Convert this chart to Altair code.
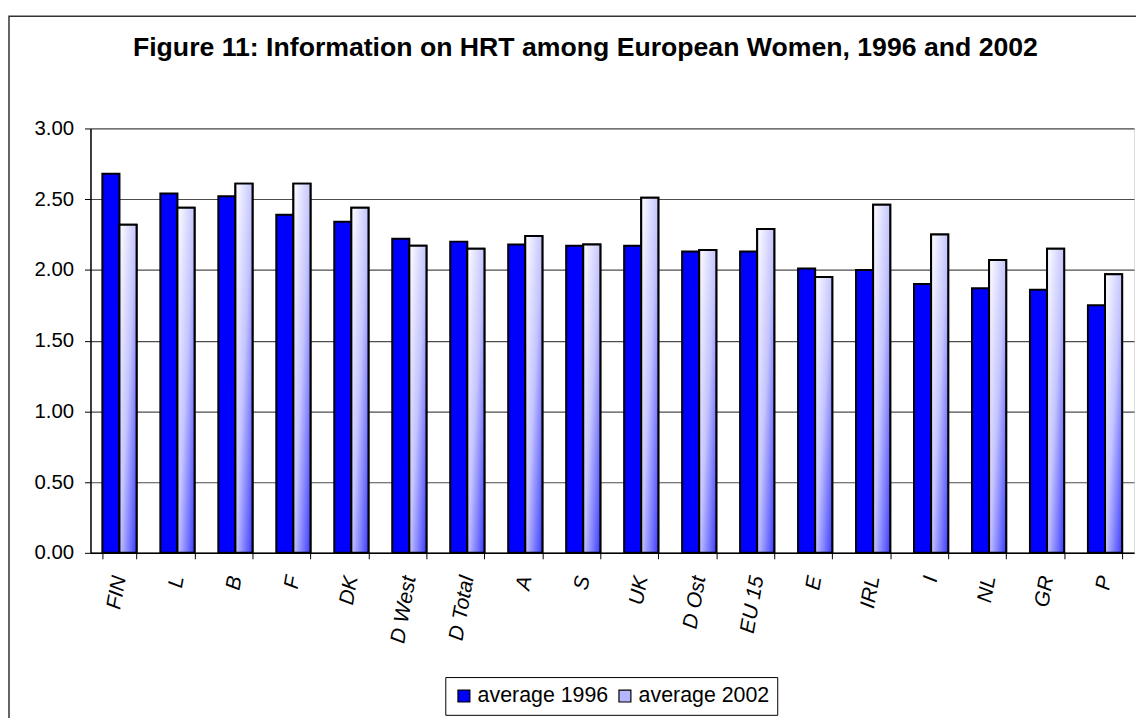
import altair as alt
import pandas as pd

countries = ["FIN", "L", "B", "F", "DK", "D West", "D Total", "A", "S", "UK",
             "D Ost", "EU 15", "E", "IRL", "I", "NL", "GR", "P"]
avg_1996 = [2.68, 2.54, 2.52, 2.39, 2.34, 2.22, 2.20, 2.18, 2.17, 2.17,
            2.13, 2.13, 2.01, 2.00, 1.90, 1.87, 1.86, 1.75]
avg_2002 = [2.32, 2.44, 2.61, 2.61, 2.44, 2.17, 2.15, 2.24, 2.18, 2.51,
            2.14, 2.29, 1.95, 2.46, 2.25, 2.07, 2.15, 1.97]
series = ["average 1996", "average 2002"]
y_ticks = [0, 0.5, 1.0, 1.5, 2.0, 2.5, 3.0]
title_text = "Figure 11: Information on HRT among European Women, 1996 and 2002"

rows = []
for c, v1, v2 in zip(countries, avg_1996, avg_2002):
    rows.append({"country": c, "series": series[0], "value": v1})
    rows.append({"country": c, "series": series[1], "value": v2})
df = pd.DataFrame(rows)

FONT = "Liberation Sans"

x_enc = alt.X("country:N", sort=countries,
              scale=alt.Scale(paddingInner=0.41, paddingOuter=0.205),
              axis=alt.Axis(title=None, labelAngle=-80, labelFontStyle="italic",
                            labelFontSize=21, labelColor="#000", labelFont=FONT,
                            tickBand="extent", tickSize=6, tickColor="#000",
                            domainColor="#000", domainWidth=1.5, labelPadding=17,
                            grid=False))
xo_enc = alt.XOffset("series:N", scale=alt.Scale(domain=series))
y_enc = alt.Y("value:Q", scale=alt.Scale(domain=[0, 3], nice=False),
              axis=alt.Axis(title=None, values=y_ticks, format=".2f",
                            labelFontSize=20.5, labelColor="#000", labelFont=FONT,
                            tickSize=6, tickColor="#000", domainColor="#000",
                            domainWidth=1.5, labelPadding=11,
                            grid=True, gridColor="#4d4d4d", gridWidth=1.2))

base = alt.Chart(df)

bars = base.mark_bar(stroke="#000", strokeWidth=2).encode(
    x=x_enc, xOffset=xo_enc, y=y_enc,
    color=alt.Color("series:N",
                    scale=alt.Scale(domain=series, range=["#0000ff", "#b4b4ff"]),
                    legend=alt.Legend(title=None, orient="none", legendX=357, legendY=552,
                                      direction="horizontal", padding=8,
                                      strokeColor="#000", fillColor="#fff",
                                      labelFontSize=21.5, labelFont=FONT, labelColor="#000",
                                      symbolType="square", symbolSize=144,
                                      symbolStrokeColor="#000", symbolStrokeWidth=1.2,
                                      symbolOpacity=1, labelOffset=3, columnPadding=6)),
)

grad = alt.LinearGradient(
    gradient="linear",
    stops=[alt.GradientStop(color="#ffffff", offset=0),
           alt.GradientStop(color="#c4c4ff", offset=0.5),
           alt.GradientStop(color="#3c3cff", offset=1)],
    x1=0, y1=0, x2=1, y2=1)

d2002 = base.transform_filter(alt.datum.series == series[1])

shadow = d2002.mark_bar(fill="#7070ff", xOffset=3).encode(
    x=x_enc, xOffset=xo_enc, y=y_enc)

bars2002 = d2002.mark_bar(fill=grad, stroke="#000", strokeWidth=2).encode(
    x=x_enc, xOffset=xo_enc, y=y_enc)

frame = alt.Chart(alt.Data(values=[{"f": 1}])).mark_rect(
    filled=False, stroke="#333", strokeWidth=1.5).encode(
    x=alt.value(-82), x2=alt.value(1100), y=alt.value(-113), y2=alt.value(700))

chart = alt.layer(frame, shadow, bars, bars2002).properties(
    width=1050, height=427,
    title=alt.Title(title_text, fontSize=26.8, fontWeight="bold", font=FONT,
                    color="#000", anchor="middle", dx=-27, offset=0,
                    baseline="alphabetic", dy=68),
    autosize=alt.AutoSizeParams(type="none"),
    padding={"left": 83, "top": 119, "right": 2, "bottom": 164},
).configure_view(stroke="#999", strokeWidth=2).configure(background="#ffffff")

chart.save("out.html", embed_options={"renderer": "svg", "actions": False})
